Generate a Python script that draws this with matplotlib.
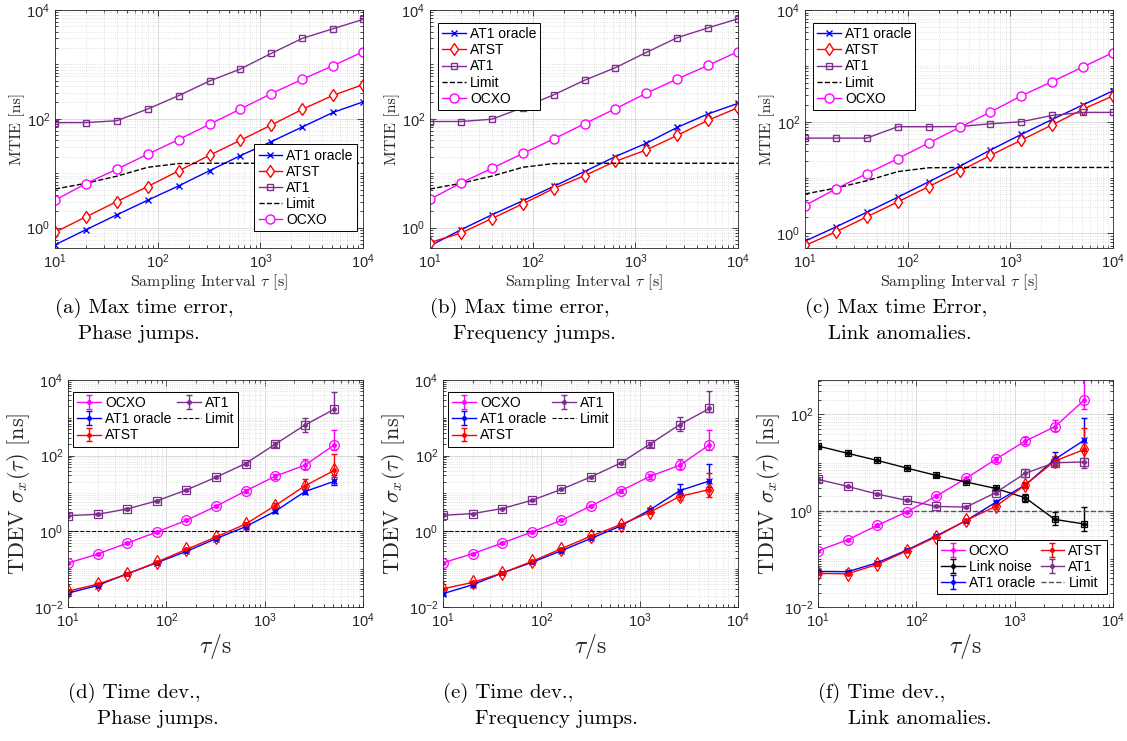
import numpy as np
import matplotlib
matplotlib.use("Agg")
import matplotlib.pyplot as plt
from matplotlib.ticker import FixedLocator, LogLocator, NullFormatter, LogFormatterSciNotation

# ---- datos ----
tau_mtie = [10, 20, 40, 80, 160, 320, 640, 1280, 2560, 5120, 10000]
tau_tdev = [10, 20, 40, 80, 160, 320, 640, 1280, 2560, 5120]

limit_mtie = [5.1, 6.5, 8.8, 12.8, 15.0, 15.2, 15.2, 15.2, 15.2, 15.2, 15.2]
limit_tdev = 1.0

# (a) MTIE, saltos de fase
a_oracle = [0.48, 0.91, 1.71, 3.18, 5.82, 11.1, 21.0, 38, 70.6, 131, 204]
a_atst = [0.82, 1.57, 3.0, 5.67, 11.0, 21.3, 40.2, 76.9, 149, 270, 424]
a_at1 = [85, 85, 92, 151, 266, 495, 822, 1595, 3008, 4528, 6720]
a_ocxo = [3.18, 6.43, 11.8, 22.3, 41.4, 79, 151, 290, 531, 946, 1711]

# (b) MTIE, saltos de frecuencia
b_oracle = [0.46, 0.91, 1.71, 3.1, 5.7, 10.7, 20.2, 35.5, 69.5, 123, 192]
b_atst = [0.53, 0.79, 1.46, 2.72, 5.2, 9.0, 16.5, 26.7, 49.5, 94, 160]
b_at1 = [89, 89, 98, 160, 275, 510, 870, 1660, 3100, 4700, 6900]
b_ocxo = [3.3, 6.6, 12.2, 23, 42.5, 81, 153, 295, 540, 960, 1720]

# (c) MTIE, anomalias de enlace
c_oracle = [0.73, 1.31, 2.4, 4.46, 8.4, 15.9, 31.2, 59.4, 110, 201, 358]
c_atst = [0.61, 1.07, 1.99, 3.67, 6.9, 13.0, 25, 47, 88, 168, 291]
c_at1 = [51, 51, 51, 81.5, 81.5, 82, 92, 100, 130, 147, 147]
c_ocxo = [3.16, 6.3, 11.8, 21.8, 41.6, 79, 149, 291, 525, 960, 1730]

# (d) TDEV, saltos de fase  (errores relativos: abajo / arriba)
d_ocxo = [0.145, 0.251, 0.49, 0.96, 1.96, 4.6, 11.7, 28.6, 56, 193]
d_ocxo_dn = [0.05, 0.05, 0.05, 0.05, 0.05, 0.07, 0.1, 0.13, 0.2, 0.27]
d_ocxo_up = [0.05, 0.05, 0.05, 0.05, 0.05, 0.07, 0.1, 0.17, 0.5, 1.54]
d_oracle = [0.0233, 0.037, 0.0757, 0.148, 0.295, 0.64, 1.33, 3.39, 11.2, 21.1]
d_oracle_dn = [0.05, 0.05, 0.05, 0.05, 0.05, 0.06, 0.08, 0.1, 0.15, 0.22]
d_oracle_up = [0.05, 0.05, 0.05, 0.05, 0.05, 0.06, 0.08, 0.1, 0.2, 0.5]
d_atst = [0.0263, 0.040, 0.074, 0.154, 0.333, 0.71, 1.56, 4.78, 15.9, 41]
d_atst_dn = [0.06, 0.06, 0.06, 0.06, 0.07, 0.08, 0.1, 0.15, 0.19, 0.32]
d_atst_up = [0.06, 0.06, 0.06, 0.06, 0.07, 0.08, 0.1, 0.15, 0.49, 1.78]
d_at1 = [2.6, 2.82, 3.9, 6.4, 12.4, 26.9, 62, 201, 641, 1700]
d_at1_dn = [0.05, 0.05, 0.05, 0.05, 0.06, 0.07, 0.08, 0.15, 0.34, 0.2]
d_at1_up = [0.05, 0.05, 0.05, 0.05, 0.06, 0.07, 0.08, 0.15, 0.56, 1.88]

# (e) TDEV, saltos de frecuencia
e_ocxo = [0.148, 0.256, 0.49, 0.96, 1.96, 4.7, 11.7, 28.6, 56, 193]
e_ocxo_dn = [0.05, 0.05, 0.05, 0.05, 0.05, 0.07, 0.1, 0.13, 0.2, 0.27]
e_ocxo_up = [0.05, 0.05, 0.05, 0.05, 0.05, 0.07, 0.1, 0.17, 0.5, 1.54]
e_oracle = [0.0225, 0.0387, 0.079, 0.151, 0.308, 0.65, 1.38, 3.75, 11.9, 21.5]
e_oracle_dn = [0.05, 0.05, 0.05, 0.05, 0.05, 0.06, 0.08, 0.12, 0.2, 0.3]
e_oracle_up = [0.05, 0.05, 0.05, 0.05, 0.05, 0.06, 0.08, 0.12, 0.54, 1.75]
e_atst = [0.0304, 0.0446, 0.079, 0.16, 0.348, 0.75, 1.5, 3.25, 8.4, 12.7]
e_atst_dn = [0.06, 0.06, 0.06, 0.06, 0.07, 0.08, 0.1, 0.12, 0.2, 0.36]
e_atst_up = [0.06, 0.06, 0.06, 0.06, 0.07, 0.08, 0.1, 0.12, 0.5, 1.75]
e_at1 = [2.65, 2.94, 4.0, 6.6, 12.9, 27.5, 64, 204, 665, 1770]
e_at1_dn = [0.05, 0.05, 0.05, 0.05, 0.06, 0.07, 0.08, 0.15, 0.34, 0.2]
e_at1_up = [0.05, 0.05, 0.05, 0.05, 0.06, 0.07, 0.08, 0.15, 0.56, 1.88]

# (f) TDEV, anomalias de enlace
f_ocxo = [0.147, 0.249, 0.495, 0.95, 2.02, 4.7, 11.7, 28, 55.7, 200]
f_ocxo_dn = [0.05, 0.05, 0.05, 0.05, 0.05, 0.07, 0.1, 0.14, 0.2, 0.36]
f_ocxo_up = [0.05, 0.05, 0.05, 0.05, 0.05, 0.07, 0.1, 0.23, 0.36, 2.25]
f_link = [22.1, 15.6, 11.1, 7.7, 5.4, 3.95, 2.91, 1.86, 0.66, 0.53]
f_link_dn = [0.04, 0.04, 0.04, 0.05, 0.05, 0.06, 0.08, 0.17, 0.24, 0.28]
f_link_up = [0.04, 0.04, 0.04, 0.05, 0.05, 0.06, 0.08, 0.19, 0.44, 1.28]
f_oracle = [0.0548, 0.0541, 0.083, 0.152, 0.302, 0.62, 1.49, 3.42, 11.7, 29.4]
f_oracle_dn = [0.05, 0.05, 0.05, 0.05, 0.05, 0.06, 0.08, 0.12, 0.23, 0.42]
f_oracle_up = [0.05, 0.05, 0.05, 0.05, 0.05, 0.06, 0.08, 0.12, 0.44, 1.82]
f_atst = [0.0498, 0.049, 0.0766, 0.147, 0.29, 0.63, 1.23, 3.42, 10.8, 18.8]
f_atst_dn = [0.06, 0.06, 0.06, 0.06, 0.07, 0.08, 0.1, 0.12, 0.2, 0.45]
f_atst_up = [0.06, 0.06, 0.06, 0.06, 0.07, 0.08, 0.1, 0.15, 0.23, 1.82]
f_at1 = [4.48, 3.2, 2.22, 1.64, 1.23, 1.19, 2.37, 6.0, 9.95, 10.3]
f_at1_dn = [0.04, 0.04, 0.04, 0.05, 0.05, 0.06, 0.08, 0.15, 0.18, 0.26]
f_at1_up = [0.04, 0.04, 0.04, 0.05, 0.05, 0.06, 0.08, 0.2, 0.13, 0.19]

captions = [
    ("(a) Max time error,", "Phase jumps."),
    ("(b) Max time error,", "Frequency jumps."),
    ("(c) Max time Error,", "Link anomalies."),
    ("(d) Time dev.,", "Phase jumps."),
    ("(e) Time dev.,", "Frequency jumps."),
    ("(f) Time dev.,", "Link anomalies."),
]

# ---- estilo ----
PURPLE = "#7E2F8E"
DARK = "#262626"
plt.rcParams["font.family"] = ["Liberation Sans", "DejaVu Sans"]
plt.rcParams["mathtext.fontset"] = "custom"
plt.rcParams["mathtext.rm"] = "Liberation Sans"
plt.rcParams["mathtext.it"] = "Liberation Sans:italic"
plt.rcParams["mathtext.bf"] = "Liberation Sans:bold"
plt.rcParams["axes.edgecolor"] = DARK
plt.rcParams["xtick.color"] = DARK
plt.rcParams["ytick.color"] = DARK

W, H = 1127, 741
fig = plt.figure(figsize=(W / 100, H / 100), dpi=100)


def px_axes(left, top, width, height):
    return fig.add_axes([left / W, 1 - (top + height) / H, width / W, height / H])


def estilo_ejes(ax, yticks, ylim):
    ax.set_xscale("log")
    ax.set_yscale("log")
    ax.set_xlim(10, 1e4)
    ax.set_ylim(*ylim)
    ax.xaxis.set_major_locator(FixedLocator([1e1, 1e2, 1e3, 1e4]))
    ax.yaxis.set_major_locator(FixedLocator(yticks))
    ax.xaxis.set_major_formatter(LogFormatterSciNotation())
    ax.yaxis.set_major_formatter(LogFormatterSciNotation())
    for eje in (ax.xaxis, ax.yaxis):
        eje.set_minor_locator(LogLocator(base=10, subs=range(1, 10), numticks=30))
        eje.set_minor_formatter(NullFormatter())
    ax.tick_params(which="both", direction="in", top=True, right=True, labelsize=10.5, width=0.6)
    ax.tick_params(which="major", length=4)
    ax.tick_params(which="minor", length=2)
    ax.grid(True, which="major", color="#d8d8d8", lw=0.6)
    ax.grid(True, which="minor", color="#d8d8d8", ls=":", lw=0.6)
    ax.set_axisbelow(True)
    for s in ax.spines.values():
        s.set_linewidth(0.6)


def leyenda(ax, handles, labels, loc, anchor, ncol=1):
    leg = ax.legend(handles, labels, loc=loc, bbox_to_anchor=anchor, ncol=ncol,
                    fontsize=10, frameon=True, fancybox=False, framealpha=1,
                    edgecolor="black", borderaxespad=0, borderpad=0.3,
                    handlelength=1.7, handletextpad=0.3, labelspacing=0.15,
                    columnspacing=0.4)
    leg.get_frame().set_linewidth(0.7)
    return leg


def panel_mtie(ax, oracle, atst, at1, ocxo, ylim, loc, anchor):
    l1, = ax.plot(tau_mtie, oracle, "-x", color="blue", lw=1, ms=5, mew=1)
    l2, = ax.plot(tau_mtie, atst, "-d", color="red", mfc="white", lw=1, ms=6.5, mew=1)
    l3, = ax.plot(tau_mtie, at1, "-s", color=PURPLE, mfc="none", lw=1, ms=5, mew=1)
    l4, = ax.plot(tau_mtie, limit_mtie, "--", color="black", lw=1)
    l5, = ax.plot(tau_mtie, ocxo, "-o", color="magenta", mfc="white", lw=1, ms=6.5, mew=1)
    estilo_ejes(ax, [1e0, 1e2, 1e4], ylim)
    ax.set_xlabel(r"Sampling Interval $\tau$ [s]", fontsize=11.5, family="cmr10",
                  math_fontfamily="cm", color=DARK, labelpad=1)
    ax.set_ylabel("MTIE [ns]", fontsize=11.5, family="cmr10", color=DARK, labelpad=1)
    leyenda(ax, [l1, l2, l3, l4, l5], ["AT1 oracle", "ATST", "AT1", "Limit", "OCXO"], loc, anchor)


def serie_tdev(ax, y, dn, up, color, marker, label, ms=7):
    y = np.array(y)
    yerr = [y * np.array(dn), y * np.array(up)]
    h = ax.errorbar(tau_tdev, y, yerr=yerr, fmt=".-", color=color, lw=1, ms=5,
                    elinewidth=1, capsize=2, capthick=1, label=label)
    ax.plot(tau_tdev, y, marker, color=color, mfc="none", ls="none", ms=ms, mew=0.9)
    return h


def etiquetas_tdev(ax):
    ax.set_xlabel(r"$\tau/\mathrm{s}$", fontsize=17, math_fontfamily="cm", color=DARK, labelpad=1)
    ax.set_ylabel(r"TDEV $\sigma_x(\tau)$ [ns]", fontsize=16, family="cmr10",
                  math_fontfamily="cm", color=DARK, labelpad=1)


# ---- fila superior ----
ax_a = px_axes(55, 10, 308, 238)
panel_mtie(ax_a, a_oracle, a_atst, a_at1, a_ocxo, (0.42, 1e4), "lower right", (0.98, 0.071))
ax_b = px_axes(430, 10, 308, 238)
panel_mtie(ax_b, b_oracle, b_atst, b_at1, b_ocxo, (0.42, 1e4), "upper left", (0.026, 0.945))
ax_c = px_axes(805, 10, 308, 238)
panel_mtie(ax_c, c_oracle, c_atst, c_at1, c_ocxo, (0.55, 1e4), "upper left", (0.026, 0.945))

# ---- fila inferior ----
for left, ocxo, oracle, atst, at1, errs in [
    (68, d_ocxo, d_oracle, d_atst, d_at1,
     (d_ocxo_dn, d_ocxo_up, d_oracle_dn, d_oracle_up, d_atst_dn, d_atst_up, d_at1_dn, d_at1_up)),
    (443, e_ocxo, e_oracle, e_atst, e_at1,
     (e_ocxo_dn, e_ocxo_up, e_oracle_dn, e_oracle_up, e_atst_dn, e_atst_up, e_at1_dn, e_at1_up)),
]:
    ax = px_axes(left, 380, 295, 227)
    h_ocxo = serie_tdev(ax, ocxo, errs[0], errs[1], "magenta", "o", "OCXO")
    h_or = serie_tdev(ax, oracle, errs[2], errs[3], "blue", "x", "AT1 oracle", ms=5)
    h_atst = serie_tdev(ax, atst, errs[4], errs[5], "red", "d", "ATST")
    h_at1 = serie_tdev(ax, at1, errs[6], errs[7], PURPLE, "s", "AT1", ms=6)
    h_lim = ax.axhline(limit_tdev, color="black", ls="--", lw=0.8)
    estilo_ejes(ax, [1e-2, 1e0, 1e2, 1e4], (1e-2, 1e4))
    etiquetas_tdev(ax)
    leyenda(ax, [h_ocxo, h_or, h_atst, h_at1, h_lim],
            ["OCXO", "AT1 oracle", "ATST", "AT1", "Limit"],
            "upper left", (0.017, 0.947), ncol=2)

ax_f = px_axes(818, 380, 295, 227)
h_ocxo = serie_tdev(ax_f, f_ocxo, f_ocxo_dn, f_ocxo_up, "magenta", "o", "OCXO")
h_link = serie_tdev(ax_f, f_link, f_link_dn, f_link_up, "black", "s", "Link noise", ms=5)
h_or = serie_tdev(ax_f, f_oracle, f_oracle_dn, f_oracle_up, "blue", "x", "AT1 oracle", ms=5)
h_atst = serie_tdev(ax_f, f_atst, f_atst_dn, f_atst_up, "red", "d", "ATST")
h_at1 = serie_tdev(ax_f, f_at1, f_at1_dn, f_at1_up, PURPLE, "s", "AT1", ms=6)
h_lim = ax_f.axhline(limit_tdev, color="#555555", ls="--", lw=1)
estilo_ejes(ax_f, [1e-2, 1e0, 1e2], (1e-2, 520))
etiquetas_tdev(ax_f)
leyenda(ax_f, [h_ocxo, h_link, h_or, h_atst, h_at1, h_lim],
        ["OCXO", "Link noise", "AT1 oracle", "ATST", "AT1", "Limit"],
        "lower right", (0.98, 0.057), ncol=2)

# ---- subtitulos ----
cap_pos = [(55, 308, 78), (430, 308, 453), (805, 308, 828),
           (68, 693, 97), (443, 693, 475), (818, 693, 848)]
for (l1, l2), (x1, y1, x2) in zip(captions, cap_pos):
    fig.text(x1 / W, 1 - y1 / H, l1, family="cmr10", fontsize=15, va="center", ha="left")
    fig.text(x2 / W, 1 - (y1 + 26) / H, l2, family="cmr10", fontsize=15, va="center", ha="left")

fig.savefig("out.png", dpi=100)
